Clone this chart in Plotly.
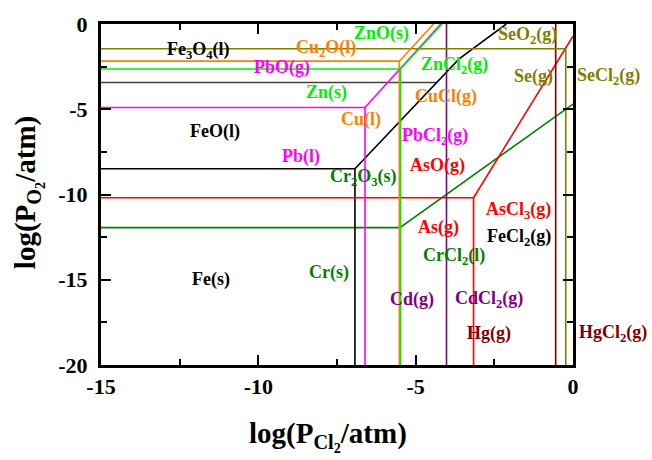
import plotly.graph_objects as go

# Predominance-area boundaries, log(P_Cl2) vs log(P_O2); None splits segments
fe_oxide_x = [-15, -4.33]
fe_oxide_y = [-3.43, -3.43]
fe_x = [-15, -6.93, -6.93, None, -6.93, -3.62, -2.12]
fe_y = [-8.49, -8.49, -20, None, -8.49, -2.05, 0]

cu_x = [-15, -5.52, -5.52, None, -5.52, -4.43]
cu_y = [-2.18, -2.18, -20, None, -2.18, 0]

zn_x = [-15, -5.48, -5.48, None, -5.48, -4.16]
zn_y = [-2.64, -2.64, -20, None, -2.64, 0]

pb_x = [-15, -6.61, -6.61, None, -6.61, -4.20]
pb_y = [-4.90, -4.90, -20, None, -4.90, 0]

cr_x = [-15, -5.50, 0, None, -5.50, -5.50]
cr_y = [-11.94, -11.94, -4.70, None, -11.94, -20]

as_x = [-15, -3.16, -3.16, None, -3.16, 0]
as_y = [-10.19, -10.19, -20, None, -10.19, -0.71]

cd_x = [-4.02, -4.02]
cd_y = [0, -20]

hg_x = [-0.55, -0.55]
hg_y = [0, -20]

se_x = [-15, -0.23, -0.23]
se_y = [-1.45, -1.45, -20]

# Phase labels: text, x, y, colour
labels = [
    ("Fe<sub>3</sub>O<sub>4</sub>(l)", -11.9, -1.55, "#000000"),
    ("Cu<sub>2</sub>O(l)", -7.85, -1.44, "#FF8000"),
    ("ZnO(s)", -6.08, -0.57, "#00EE00"),
    ("SeO<sub>2</sub>(g)", -1.46, -0.69, "#808000"),
    ("PbO(g)", -9.24, -2.53, "#FF00FF"),
    ("ZnCl<sub>2</sub>(g)", -3.77, -2.41, "#00EE00"),
    ("Se(g)", -1.27, -3.10, "#808000"),
    ("SeCl<sub>2</sub>(g)", 1.14, -3.10, "#808000"),
    ("Zn(s)", -7.82, -4.02, "#00EE00"),
    ("CuCl(g)", -4.05, -4.25, "#FF8000"),
    ("Cu(l)", -6.74, -5.63, "#FF8000"),
    ("FeO(l)", -11.39, -6.32, "#000000"),
    ("PbCl<sub>2</sub>(g)", -4.37, -6.61, "#FF00FF"),
    ("Pb(l)", -8.64, -7.76, "#FF00FF"),
    ("AsO(g)", -4.30, -8.28, "#FF0000"),
    ("Cr<sub>2</sub>O<sub>3</sub>(s)", -6.65, -9.02, "#008000"),
    ("AsCl<sub>3</sub>(g)", -1.74, -10.92, "#FF0000"),
    ("As(g)", -4.27, -11.95, "#FF0000"),
    ("FeCl<sub>2</sub>(g)", -1.71, -12.53, "#000000"),
    ("CrCl<sub>2</sub>(l)", -3.77, -13.62, "#008000"),
    ("Fe(s)", -11.49, -15.0, "#000000"),
    ("Cr(s)", -7.75, -14.6, "#008000"),
    ("Cd(g)", -5.13, -16.15, "#800080"),
    ("CdCl<sub>2</sub>(g)", -2.66, -16.15, "#800080"),
    ("Hg(g)", -2.66, -18.16, "#800000"),
    ("HgCl<sub>2</sub>(g)", 1.27, -18.16, "#800000"),
]

x_range = [-15, 0]
y_range = [-20, 0]
x_ticks = [-15, -10, -5, 0]
y_ticks = [0, -5, -10, -15, -20]

FONT = "Liberation Serif"

fig = go.Figure()

series = [
    (cr_x, cr_y, "#008000"),
    (fe_oxide_x, fe_oxide_y, "#404040"),
    (fe_x, fe_y, "#000000"),
    (as_x, as_y, "#FF0000"),
    (cd_x, cd_y, "#800080"),
    (hg_x, hg_y, "#800000"),
    (se_x, se_y, "#808000"),
    (cu_x, cu_y, "#FF8000"),
    (pb_x, pb_y, "#FF00FF"),
    (zn_x, zn_y, "#00EE00"),
]
for xs, ys, col in series:
    fig.add_trace(go.Scatter(
        x=xs, y=ys, mode="lines", line=dict(color=col, width=1.6),
        showlegend=False, hoverinfo="skip", cliponaxis=True,
    ))

# Labels placed in paper fractions so the ones right of the frame stay visible
for text, x, y, col in labels:
    px = (x - x_range[0]) / (x_range[1] - x_range[0])
    py = (y - y_range[0]) / (y_range[1] - y_range[0])
    fig.add_annotation(
        x=px, y=py, text=text, showarrow=False, xref="paper", yref="paper",
        xanchor="center", yanchor="middle",
        font=dict(family=FONT, size=18, color=col, weight="bold"),
    )

# Axis titles
fig.add_annotation(
    x=0.481, y=0, xref="paper", yref="paper", yshift=-71,
    xanchor="center", yanchor="middle",
    text="log(P<sub>Cl<sub>2</sub></sub>/atm)", showarrow=False,
    font=dict(family=FONT, size=29, color="#000000", weight="bold"),
)
fig.add_annotation(
    x=0, y=0.504, xref="paper", yref="paper", xshift=-73,
    xanchor="center", yanchor="middle",
    text="log(P<sub>O<sub>2</sub></sub>/atm)", showarrow=False, textangle=-90,
    font=dict(family=FONT, size=29, color="#000000", weight="bold"),
)

axis_common = dict(
    showgrid=False, zeroline=False, showline=True, linecolor="#000000",
    linewidth=3, mirror="allticks", ticks="inside", ticklen=10, tickwidth=2,
    tickcolor="#000000",
    tickfont=dict(family=FONT, size=22, color="#000000", weight="bold"),
    minor=dict(ticks="inside", ticklen=6, tickwidth=2, tickcolor="#000000", dtick=2.5),
)

fig.update_xaxes(range=x_range, tickvals=x_ticks, ticktext=[str(v) for v in x_ticks],
                 **axis_common)
fig.update_yaxes(range=y_range, tickvals=y_ticks, ticktext=[str(v) for v in y_ticks],
                 ticklabelstandoff=6, **axis_common)

fig.update_layout(
    width=652, height=460,
    margin=dict(l=101, r=79, t=18, b=95),
    plot_bgcolor="#FFFFFF", paper_bgcolor="#FFFFFF",
    showlegend=False,
)

fig.write_html("out.html")
